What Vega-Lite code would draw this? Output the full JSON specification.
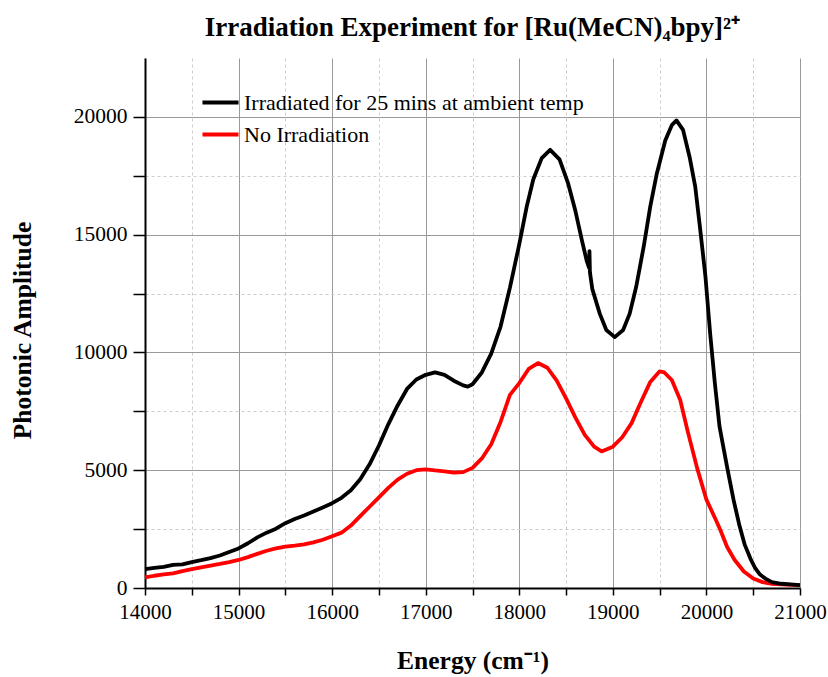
{
  "$schema": "https://vega.github.io/schema/vega-lite/v6.json",
  "width": 655,
  "height": 530,
  "autosize": {"type": "none"},
  "padding": {"left": 145, "top": 58, "right": 28, "bottom": 89},
  "background": "white",
  "config": {
    "font": "Liberation Serif",
    "view": {"stroke": null}
  },
  "title": {
    "text": "Irradiation Experiment for [Ru(MeCN)₄bpy]²⁺",
    "font": "Liberation Serif",
    "fontSize": 27,
    "fontWeight": "bold",
    "color": "black",
    "offset": 16
  },
  "datasets": {
    "black": [
      [14000,800],[14100,850],[14200,900],[14300,980],[14400,1000],[14500,1100],[14600,1180],[14700,1270],[14800,1380],[14900,1530],
      [15000,1680],[15100,1900],[15200,2150],[15300,2350],[15400,2520],[15500,2750],[15600,2930],[15700,3080],[15800,3250],[15900,3420],
      [16000,3600],[16100,3830],[16200,4150],[16300,4620],[16400,5250],[16500,6050],[16600,6950],[16700,7750],[16800,8450],[16900,8850],
      [17000,9050],[17100,9150],[17200,9050],[17300,8800],[17400,8600],[17450,8550],[17500,8650],[17600,9150],[17700,9950],[17800,11100],
      [17900,12750],[18000,14600],[18080,16200],[18150,17350],[18240,18250],[18330,18600],[18430,18200],[18520,17200],[18600,16000],[18670,14750],
      [18720,13900],[18745,13600],[18750,14300],[18755,13400],[18780,12700],[18860,11650],[18930,10950],[19020,10650],[19110,10950],[19180,11650],
      [19250,12800],[19330,14500],[19400,16200],[19470,17600],[19560,19000],[19630,19650],[19680,19850],[19750,19450],[19820,18300],[19880,17050],
      [19930,15350],[19990,13200],[20040,10800],[20090,8700],[20140,6850],[20220,5150],[20290,3740],[20350,2700],[20410,1830],[20470,1250],
      [20520,850],[20570,580],[20630,400],[20700,250],[20800,180],[20900,150],[21000,120]
    ],
    "red": [
      [14000,450],[14100,520],[14200,580],[14300,620],[14400,720],[14500,800],[14600,880],[14700,950],[14800,1020],[14900,1100],
      [15000,1190],[15100,1310],[15200,1450],[15300,1580],[15400,1680],[15500,1760],[15600,1800],[15700,1850],[15800,1940],[15900,2050],
      [16000,2200],[16100,2350],[16200,2650],[16300,3050],[16400,3450],[16500,3850],[16600,4250],[16700,4600],[16800,4850],[16900,5000],
      [17000,5040],[17100,4990],[17200,4950],[17300,4900],[17400,4920],[17500,5100],[17600,5500],[17700,6100],[17800,7050],[17900,8200],
      [18000,8700],[18100,9300],[18200,9550],[18300,9350],[18400,8800],[18500,8050],[18600,7230],[18700,6500],[18800,6000],[18880,5800],
      [19000,6000],[19100,6400],[19200,7000],[19300,7900],[19400,8750],[19500,9200],[19550,9150],[19630,8830],[19720,7980],[19800,6650],
      [19900,5100],[20000,3750],[20100,2900],[20150,2450],[20220,1750],[20300,1200],[20400,700],[20500,400],[20600,250],[20700,180],
      [20800,150],[20900,130],[21000,120]
    ]
  },
  "data": {"name": "black"},
  "layer": [
    {
      "data": {"name": "red"},
      "transform": [
        {"calculate": "datum[0]", "as": "E"},
        {"calculate": "datum[1]", "as": "A"},
        {"calculate": "'No Irradiation'", "as": "series"}
      ],
      "mark": {"type": "line", "strokeWidth": 3.8, "strokeJoin": "round"},
      "encoding": {
        "x": {"field": "E", "type": "quantitative"},
        "y": {"field": "A", "type": "quantitative"},
        "color": {"field": "series", "type": "nominal"}
      }
    },
    {
      "data": {"name": "black"},
      "transform": [
        {"calculate": "datum[0]", "as": "E"},
        {"calculate": "datum[1]", "as": "A"},
        {"calculate": "'Irradiated for 25 mins at ambient temp'", "as": "series"}
      ],
      "mark": {"type": "line", "strokeWidth": 3.8, "strokeJoin": "round"},
      "encoding": {
        "x": {
          "field": "E", "type": "quantitative",
          "scale": {"domain": [14000, 21000], "nice": false, "zero": false},
          "axis": {
            "values": [14000,14500,15000,15500,16000,16500,17000,17500,18000,18500,19000,19500,20000,20500,21000],
            "format": "d",
            "labelExpr": "datum.value % 1000 === 0 ? datum.label : ''",
            "labelFlush": false, "labelOverlap": false, "labelBound": false,
            "labelFont": "Liberation Serif", "labelFontSize": 21, "labelColor": "black", "labelPadding": 6,
            "tickSize": 7, "tickColor": "black", "tickWidth": 1.5,
            "domainColor": "black", "domainWidth": 2,
            "grid": true,
            "gridColor": {"condition": {"test": "datum.value % 1000 === 0", "value": "#9a9a9a"}, "value": "#cccccc"},
            "gridDash": {"condition": {"test": "datum.value % 1000 === 0", "value": []}, "value": [3, 3]},
            "gridWidth": 1,
            "title": "Energy (cm⁻¹)",
            "titleFont": "Liberation Serif", "titleFontSize": 25.5, "titleFontWeight": "bold", "titleColor": "black", "titlePadding": 26
          }
        },
        "y": {
          "field": "A", "type": "quantitative",
          "scale": {"domain": [0, 22500], "nice": false},
          "axis": {
            "values": [0,2500,5000,7500,10000,12500,15000,17500,20000],
            "format": "d",
            "labelExpr": "datum.value % 5000 === 0 ? datum.label : ''",
            "labelFlush": false, "labelOverlap": false,
            "labelFont": "Liberation Serif", "labelFontSize": 21.5, "labelColor": "black", "labelPadding": 6,
            "tickSize": 12, "tickColor": "black", "tickWidth": 1.5,
            "domainColor": "black", "domainWidth": 2,
            "grid": true,
            "gridColor": {"condition": {"test": "datum.value % 5000 === 0", "value": "#9a9a9a"}, "value": "#cccccc"},
            "gridDash": {"condition": {"test": "datum.value % 5000 === 0", "value": []}, "value": [3, 3]},
            "gridWidth": 1,
            "title": "Photonic Amplitude",
            "titleFont": "Liberation Serif", "titleFontSize": 25.5, "titleFontWeight": "bold", "titleColor": "black", "titlePadding": 38,
            "titleY": 272
          }
        },
        "color": {
          "field": "series", "type": "nominal",
          "scale": {
            "domain": ["Irradiated for 25 mins at ambient temp", "No Irradiation"],
            "range": ["#000000", "#ff0000"]
          },
          "legend": {
            "title": null,
            "orient": "none",
            "legendX": 55,
            "legendY": 24,
            "symbolType": "stroke",
            "symbolSize": 1300,
            "symbolStrokeWidth": 4,
            "labelFont": "Liberation Serif",
            "labelFontSize": 22,
            "labelColor": "black",
            "labelLimit": 500,
            "labelOffset": 3,
            "rowPadding": -9,
            "padding": 0
          }
        }
      }
    }
  ]
}
